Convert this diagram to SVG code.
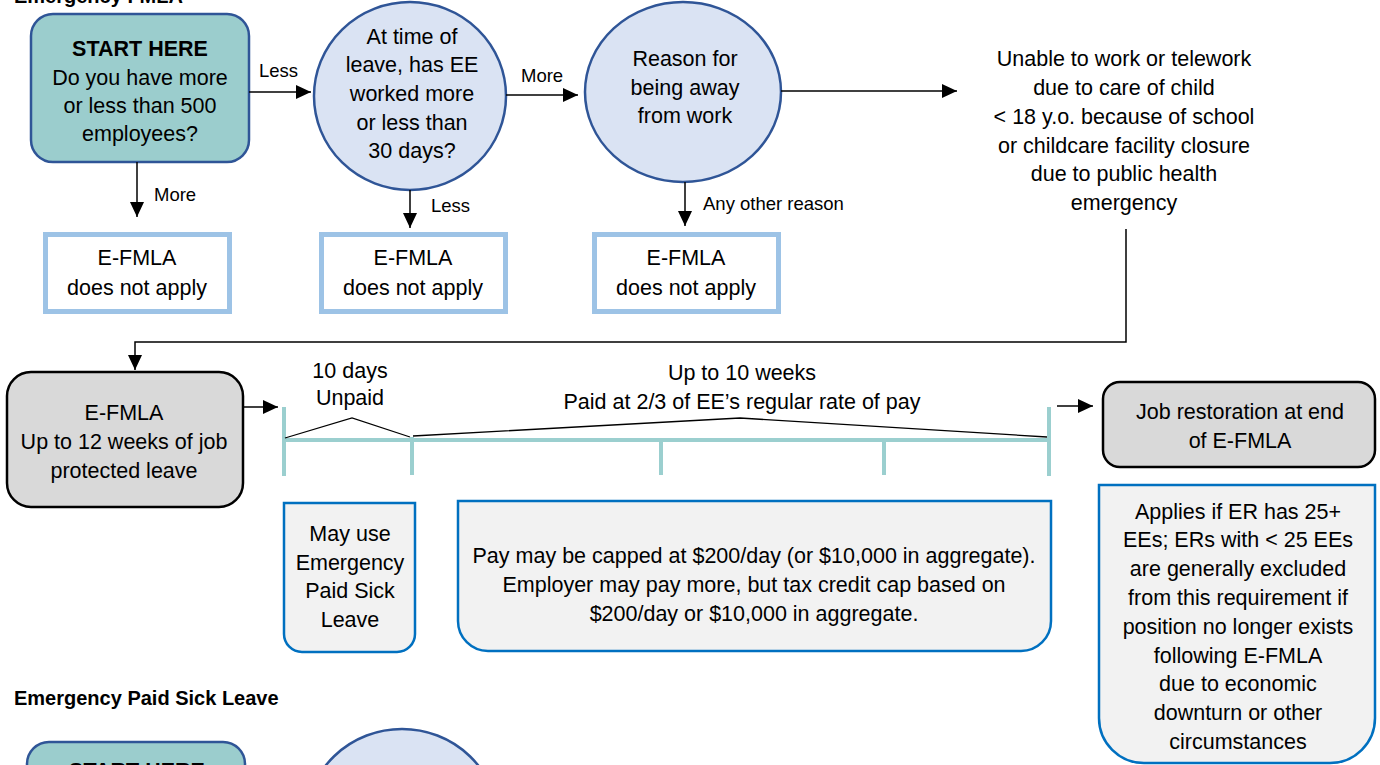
<svg xmlns="http://www.w3.org/2000/svg" width="1380" height="765" viewBox="0 0 1380 765">
<defs>
<marker id="arr" markerUnits="userSpaceOnUse" markerWidth="15" markerHeight="14" refX="15" refY="7" orient="auto">
<path d="M0,0 L15,7 L0,14 Z" fill="#000"/>
</marker>
<style>
text{font-family:"Liberation Sans",Arial,sans-serif;fill:#000;}
.t{font-size:21.5px;text-anchor:middle;}
.lbl{font-size:18.5px;}
.b{font-weight:bold;}
.h{font-size:20px;font-weight:bold;}
.start{fill:#9BCDCD;stroke:#2F5597;stroke-width:2.5;}
.circ{fill:#DAE3F3;stroke:#2F5597;stroke-width:2.5;}
.na{fill:#fff;stroke:#9DC3E6;stroke-width:5;}
.gray{fill:#D9D9D9;stroke:#000;stroke-width:2.5;}
.note{fill:#F2F2F2;stroke:#0070C0;stroke-width:2.5;}
.conn path{fill:none;stroke:#000;stroke-width:1.5;}
.tl line{stroke:#9BCFCF;stroke-width:4;}
.br{fill:none;stroke:#000;stroke-width:1.3;}
</style>
</defs>
<rect width="1380" height="765" fill="#fff"/>

<text class="h" x="14" y="3">Emergency FMLA</text>

<g id="start">
<rect class="start" x="31" y="14" width="218" height="148" rx="22"/>
<text class="t b" x="140" y="56">START HERE</text>
<text class="t" x="140" y="85">Do you have more</text>
<text class="t" x="140" y="113">or less than 500</text>
<text class="t" x="140" y="141">employees?</text>
</g>

<g id="days30">
<ellipse class="circ" cx="410" cy="96" rx="96" ry="94"/>
<text class="t" x="412" y="44">At time of</text>
<text class="t" x="412" y="72">leave, has EE</text>
<text class="t" x="412" y="101">worked more</text>
<text class="t" x="412" y="130">or less than</text>
<text class="t" x="412" y="158">30 days?</text>
</g>

<g id="reason">
<ellipse class="circ" cx="683" cy="92" rx="98" ry="90"/>
<text class="t" x="685" y="66">Reason for</text>
<text class="t" x="685" y="95">being away</text>
<text class="t" x="685" y="123">from work</text>
</g>

<g id="childcare">
<text class="t" x="1124" y="66">Unable to work or telework</text>
<text class="t" x="1124" y="95">due to care of child</text>
<text class="t" x="1124" y="124">&lt; 18 y.o. because of school</text>
<text class="t" x="1124" y="153">or childcare facility closure</text>
<text class="t" x="1124" y="181">due to public health</text>
<text class="t" x="1124" y="210">emergency</text>
</g>

<g id="na1">
<rect class="na" x="45.5" y="234.5" width="184" height="77"/>
<text class="t" x="137" y="265">E-FMLA</text>
<text class="t" x="137" y="295">does not apply</text>
</g>
<g id="na2">
<rect class="na" x="321.5" y="234.5" width="184" height="77"/>
<text class="t" x="413" y="265">E-FMLA</text>
<text class="t" x="413" y="295">does not apply</text>
</g>
<g id="na3">
<rect class="na" x="594.5" y="234.5" width="184" height="77"/>
<text class="t" x="686" y="265">E-FMLA</text>
<text class="t" x="686" y="295">does not apply</text>
</g>

<g id="efmla">
<rect class="gray" x="7" y="372" width="236" height="135" rx="24"/>
<text class="t" x="124" y="420">E-FMLA</text>
<text class="t" x="124" y="449">Up to 12 weeks of job</text>
<text class="t" x="124" y="478">protected leave</text>
</g>

<g id="timeline">
<g class="tl">
<line x1="284" y1="440" x2="1049" y2="440"/>
<line x1="284" y1="407" x2="284" y2="476"/>
<line x1="412" y1="437" x2="412" y2="475"/>
<line x1="661" y1="440" x2="661" y2="475"/>
<line x1="884" y1="440" x2="884" y2="475"/>
<line x1="1049" y1="407" x2="1049" y2="476"/>
</g>
<path class="br" d="M285,438 L352,418 L410,437"/>
<path class="br" d="M413,436 L740,418 L1047,437"/>
<text class="t" x="350" y="378">10 days</text>
<text class="t" x="350" y="405">Unpaid</text>
<text class="t" x="742" y="380">Up to 10 weeks</text>
<text class="t" x="742" y="409">Paid at 2/3 of EE’s regular rate of pay</text>
</g>

<g id="paidsick">
<path class="note" d="M284,503 H415 V634 A18,18 0 0 1 397,652 H302 A18,18 0 0 1 284,634 Z"/>
<text class="t" x="350" y="541">May use</text>
<text class="t" x="350" y="570">Emergency</text>
<text class="t" x="350" y="598">Paid Sick</text>
<text class="t" x="350" y="627">Leave</text>
</g>

<g id="paycap">
<path class="note" d="M458,501 H1051 V621 A30,30 0 0 1 1021,651 H488 A30,30 0 0 1 458,621 Z"/>
<text class="t" x="754" y="563">Pay may be capped at $200/day (or $10,000 in aggregate).</text>
<text class="t" x="754" y="592">Employer may pay more, but tax credit cap based on</text>
<text class="t" x="754" y="621">$200/day or $10,000 in aggregate.</text>
</g>

<g id="restore">
<rect class="gray" x="1103" y="382" width="272" height="85" rx="17"/>
<text class="t" x="1240" y="419">Job restoration at end</text>
<text class="t" x="1240" y="448">of E-FMLA</text>
</g>

<g id="applies">
<path class="note" d="M1099,485 H1375 V718 A45,45 0 0 1 1330,763 H1144 A45,45 0 0 1 1099,718 Z"/>
<text class="t" x="1238" y="519">Applies if ER has 25+</text>
<text class="t" x="1238" y="547">EEs; ERs with &lt; 25 EEs</text>
<text class="t" x="1238" y="576">are generally excluded</text>
<text class="t" x="1238" y="605">from this requirement if</text>
<text class="t" x="1238" y="634">position no longer exists</text>
<text class="t" x="1238" y="663">following E-FMLA</text>
<text class="t" x="1238" y="691">due to economic</text>
<text class="t" x="1238" y="720">downturn or other</text>
<text class="t" x="1238" y="749">circumstances</text>
</g>

<g id="connectors" class="conn">
<path d="M249,92 H311" marker-end="url(#arr)"/>
<path d="M137,162 V217" marker-end="url(#arr)"/>
<path d="M410,190 V228" marker-end="url(#arr)"/>
<path d="M506,95 H578" marker-end="url(#arr)"/>
<path d="M685,182 V226" marker-end="url(#arr)"/>
<path d="M781,91 H957" marker-end="url(#arr)"/>
<path d="M1126,229 V342 H135 V370" marker-end="url(#arr)"/>
<path d="M243,407 H278" marker-end="url(#arr)"/>
<path d="M1057,406 H1093" marker-end="url(#arr)"/>
<text class="lbl" x="259" y="77">Less</text>
<text class="lbl" x="154" y="201">More</text>
<text class="lbl" x="431" y="212">Less</text>
<text class="lbl" x="521" y="82">More</text>
<text class="lbl" x="703" y="210">Any other reason</text>
</g>

<text class="h" x="14" y="705">Emergency Paid Sick Leave</text>

<g id="start2">
<rect class="start" x="27" y="742" width="218" height="148" rx="22"/>
<text class="t b" x="137" y="778">START HERE</text>
</g>
<g id="circle2b">
<ellipse class="circ" cx="402" cy="822" rx="96" ry="93"/>
</g>
</svg>
